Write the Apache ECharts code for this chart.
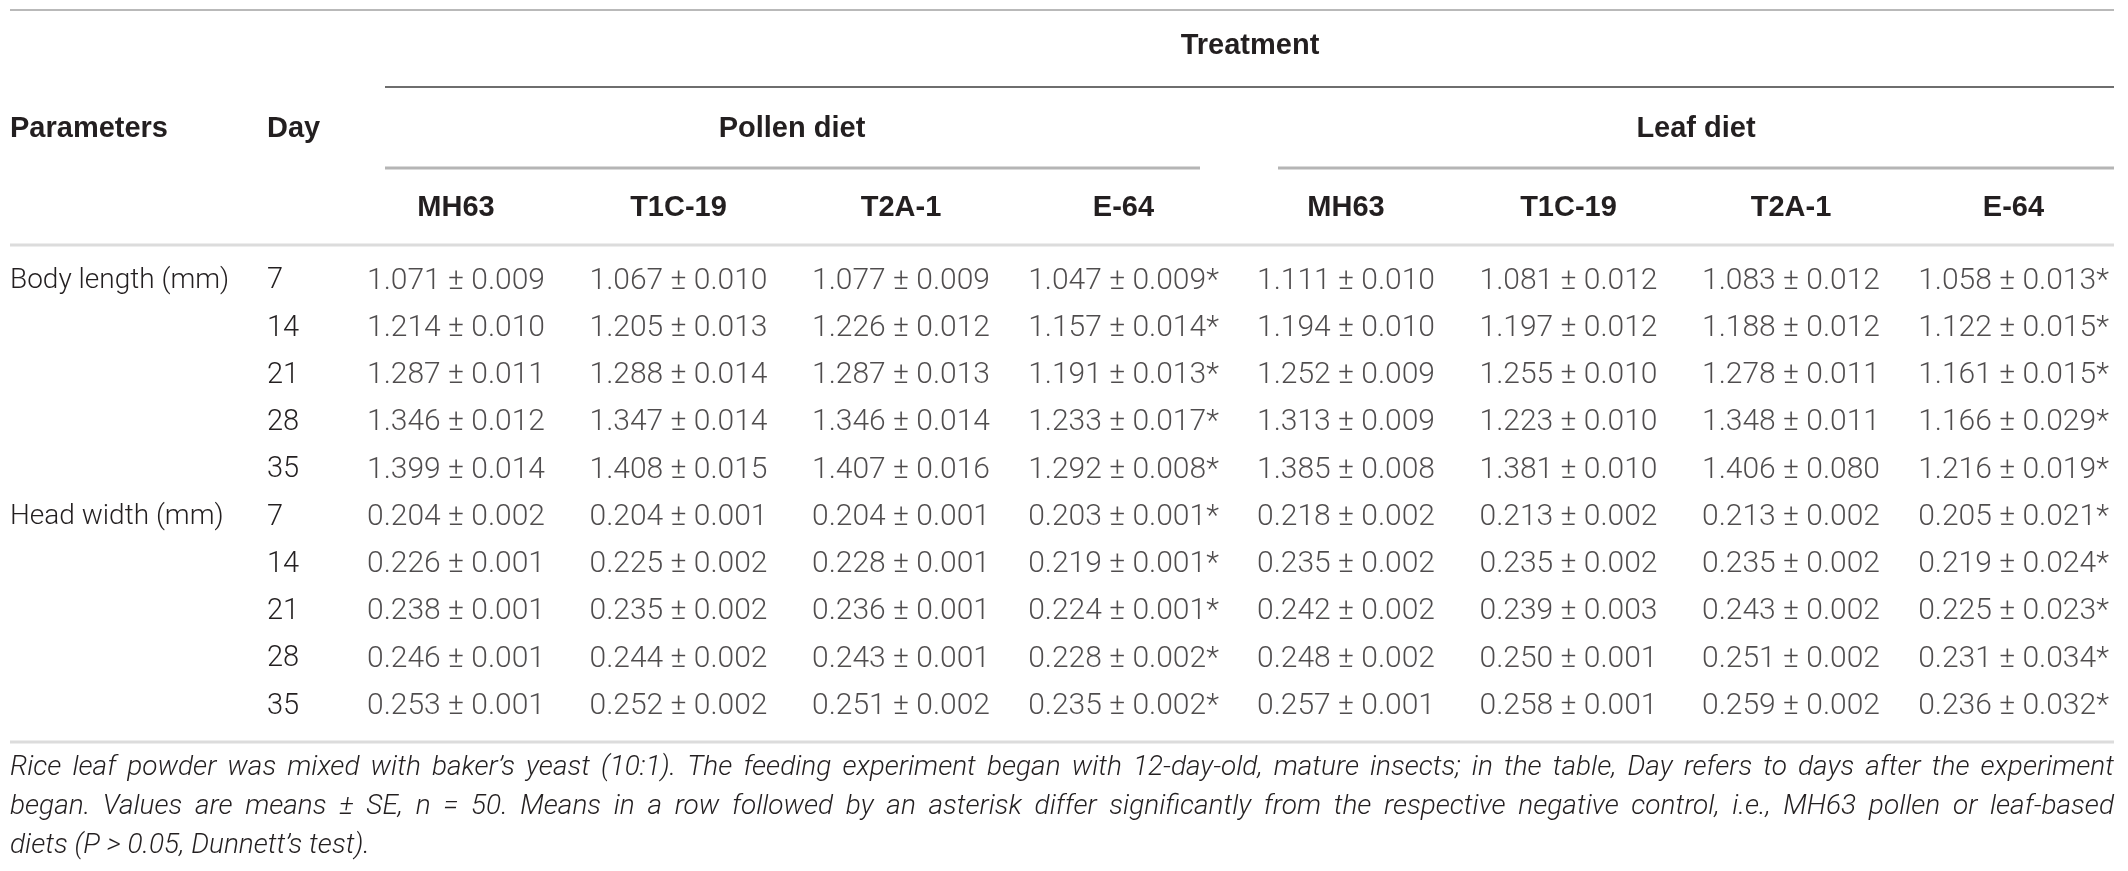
<!DOCTYPE html>
<html>
<head>
<meta charset="utf-8">
<title>Body length and head width</title>
<script src="https://cdn.jsdelivr.net/npm/echarts@6/dist/echarts.min.js"></script>
<style>
  html, body { margin: 0; padding: 0; background: #fff; }
  #main { width: 2128px; height: 871px; }
</style>
</head>
<body>
<div id="main"></div>
<script>
(function () {
var parameters = ['Body length (mm)', 'Head width (mm)'];
var days = [7, 14, 21, 28, 35];
var diets = ['Pollen diet', 'Leaf diet'];
var strains = ['MH63', 'T1C-19', 'T2A-1', 'E-64'];
// asterisk = differs from MH63 control of the same diet
var significant = [false, false, false, true];

// rows = days, columns = strains
var bodyPollenMean = [
  [1.071, 1.067, 1.077, 1.047],
  [1.214, 1.205, 1.226, 1.157],
  [1.287, 1.288, 1.287, 1.191],
  [1.346, 1.347, 1.346, 1.233],
  [1.399, 1.408, 1.407, 1.292]
];
var bodyPollenSE = [
  [0.009, 0.010, 0.009, 0.009],
  [0.010, 0.013, 0.012, 0.014],
  [0.011, 0.014, 0.013, 0.013],
  [0.012, 0.014, 0.014, 0.017],
  [0.014, 0.015, 0.016, 0.008]
];
var bodyLeafMean = [
  [1.111, 1.081, 1.083, 1.058],
  [1.194, 1.197, 1.188, 1.122],
  [1.252, 1.255, 1.278, 1.161],
  [1.313, 1.223, 1.348, 1.166],
  [1.385, 1.381, 1.406, 1.216]
];
var bodyLeafSE = [
  [0.010, 0.012, 0.012, 0.013],
  [0.010, 0.012, 0.012, 0.015],
  [0.009, 0.010, 0.011, 0.015],
  [0.009, 0.010, 0.011, 0.029],
  [0.008, 0.010, 0.080, 0.019]
];
var headPollenMean = [
  [0.204, 0.204, 0.204, 0.203],
  [0.226, 0.225, 0.228, 0.219],
  [0.238, 0.235, 0.236, 0.224],
  [0.246, 0.244, 0.243, 0.228],
  [0.253, 0.252, 0.251, 0.235]
];
var headPollenSE = [
  [0.002, 0.001, 0.001, 0.001],
  [0.001, 0.002, 0.001, 0.001],
  [0.001, 0.002, 0.001, 0.001],
  [0.001, 0.002, 0.001, 0.002],
  [0.001, 0.002, 0.002, 0.002]
];
var headLeafMean = [
  [0.218, 0.213, 0.213, 0.205],
  [0.235, 0.235, 0.235, 0.219],
  [0.242, 0.239, 0.243, 0.225],
  [0.248, 0.250, 0.251, 0.231],
  [0.257, 0.258, 0.259, 0.236]
];
var headLeafSE = [
  [0.002, 0.002, 0.002, 0.021],
  [0.002, 0.002, 0.002, 0.024],
  [0.002, 0.003, 0.002, 0.023],
  [0.002, 0.001, 0.002, 0.034],
  [0.001, 0.001, 0.002, 0.032]
];

var footnote = [
  'Rice leaf powder was mixed with baker\u2019s yeast (10:1). The feeding experiment began with 12-day-old, mature insects; in the table, Day refers to days after the experiment',
  'began. Values are means \u00b1 SE, n = 50. Means in a row followed by an asterisk differ significantly from the respective negative control, i.e., MH63 pollen or leaf-based',
  'diets (P > 0.05, Dunnett\u2019s test).'
];

var means = [[bodyPollenMean, bodyLeafMean], [headPollenMean, headLeafMean]];
var ses = [[bodyPollenSE, bodyLeafSE], [headPollenSE, headLeafSE]];

var TEXT = '#231f20';
var LIGHT = '"Roboto", "Helvetica Neue", sans-serif';
var BOLD = '"Liberation Sans", Arial, sans-serif';

// build the cells
var colIds = [], colNames = [];
diets.forEach(function (d, k) {
  strains.forEach(function (s) { colIds.push(d + ' ' + s); colNames.push(s); });
});
var rowIds = [], dayNames = [], paramNames = [];
var cells = [];
parameters.forEach(function (p, pi) {
  days.forEach(function (day, di) {
    var r = rowIds.length;
    rowIds.push(p + ' ' + day);
    dayNames.push(String(day));
    paramNames.push(di === 0 ? p : '');
    diets.forEach(function (d, k) {
      strains.forEach(function (s, si) {
        var m = means[pi][k][di][si], e = ses[pi][k][di][si];
        cells.push([k * strains.length + si, r,
          m.toFixed(3) + ' \u00b1 ' + e.toFixed(3) + (significant[si] ? '*' : '')]);
      });
    });
  });
});

var chart = echarts.init(document.getElementById('main'));

// layout of the table body
var colW = 222.5, firstCol = 456, rowH = 47.25, firstRow = 281;
var gridLeft = firstCol - colW / 2;
var gridTop = firstRow - rowH / 2;

var L = 10, R = 2114;
var graphics = [];
function rule(x1, x2, y, color, w) {
  graphics.push({ type: 'line', silent: true,
    shape: { x1: x1, y1: y, x2: x2, y2: y },
    style: { stroke: color, lineWidth: w } });
}
function head(text, x, y, align) {
  graphics.push({ type: 'text', silent: true, x: x, y: y,
    style: { text: text, fill: TEXT, fontFamily: BOLD, fontWeight: 'bold', fontSize: 29,
      align: align || 'center', verticalAlign: 'middle' } });
}

rule(L, R, 10, '#b9b9b9', 2);
head('Treatment', 1250, 46);
rule(385, R, 87, '#6e6e6e', 2);
head('Parameters', L, 129, 'left');
head('Day', 267, 129, 'left');
head(diets[0], 792, 129);
head(diets[1], 1696, 129);
rule(385, 1200, 168, '#b5b5b5', 3);
rule(1278, R, 168, '#b5b5b5', 3);
rule(L, R, 245, '#dcdcdc', 3);
rule(L, R, 742, '#dcdcdc', 3);

// footnote, justified like the source
var ctx = document.createElement('canvas').getContext('2d');
ctx.font = 'italic 300 26px Roboto';
var fnSize = Math.min(28, 26 * (R - L) / ctx.measureText(footnote[0]).width);
ctx.font = 'italic 300 ' + fnSize + 'px Roboto';
var fnY = [768, 807, 846];
footnote.forEach(function (line, li) {
  var words = line.split(' ');
  var widths = words.map(function (w) { return ctx.measureText(w).width; });
  var total = widths.reduce(function (a, b) { return a + b; }, 0);
  var justify = li < footnote.length - 1;
  var gap = justify ? (R - L - total) / (words.length - 1) : ctx.measureText(' ').width;
  var x = L;
  words.forEach(function (w, wi) {
    graphics.push({ type: 'text', silent: true, x: x, y: fnY[li],
      style: { text: w, fill: TEXT, fontFamily: 'Roboto', fontWeight: 300, fontStyle: 'italic',
        fontSize: fnSize, align: 'left', verticalAlign: 'middle' } });
    x += widths[wi] + gap;
  });
});

var hidden = { show: false };
chart.setOption({
  backgroundColor: '#ffffff',
  animation: false,
  grid: { left: gridLeft, top: gridTop, width: colW * colIds.length, height: rowH * rowIds.length },
  xAxis: {
    type: 'category', position: 'top', data: colIds,
    axisLine: hidden, axisTick: hidden, splitLine: hidden,
    axisLabel: {
      interval: 0, margin: 35, color: TEXT, fontFamily: BOLD, fontWeight: 'bold', fontSize: 29,
      formatter: function (v, i) { return colNames[i]; }
    }
  },
  yAxis: [{
    type: 'category', inverse: true, data: rowIds,
    axisLine: hidden, axisTick: hidden, splitLine: hidden,
    axisLabel: {
      interval: 0, align: 'left', margin: gridLeft - 267, color: TEXT,
      fontFamily: LIGHT, fontWeight: 300, fontSize: 29,
      formatter: function (v, i) { return dayNames[i]; }
    }
  }, {
    type: 'category', inverse: true, data: rowIds, position: 'left',
    axisLine: hidden, axisTick: hidden, splitLine: hidden,
    axisLabel: {
      interval: 0, align: 'left', margin: gridLeft - L, color: TEXT,
      fontFamily: LIGHT, fontWeight: 300, fontSize: 28,
      formatter: function (v, i) { return paramNames[i]; }
    }
  }],
  series: [{
    type: 'scatter', symbolSize: 0, silent: true,
    data: cells,
    label: {
      show: true, position: 'inside', color: TEXT,
      fontFamily: LIGHT, fontWeight: 300, fontSize: 30,
      formatter: function (p) { return p.value[2]; }
    }
  }],
  graphic: graphics
});
})();
</script>
</body>
</html>
